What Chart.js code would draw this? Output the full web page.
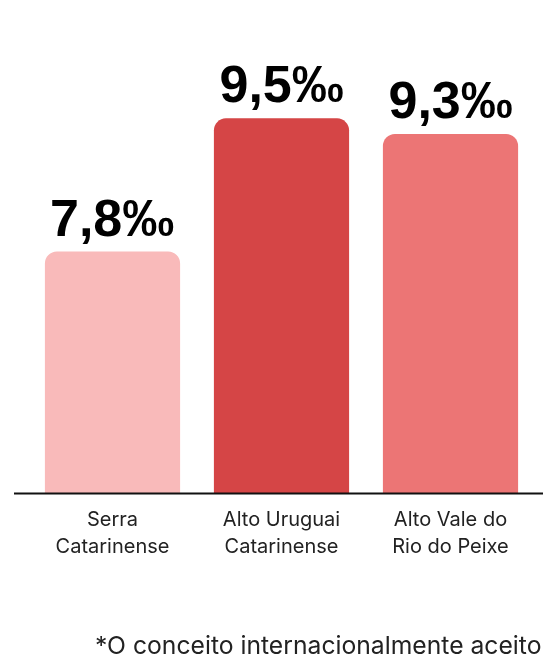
<!DOCTYPE html>
<html>
<head>
<meta charset="utf-8">
<script src="https://cdn.jsdelivr.net/npm/chart.js@4/dist/chart.umd.min.js"></script>
<style>
  html, body { margin: 0; padding: 0; background: #ffffff; overflow: hidden; }
  #wrap { position: relative; width: 543px; height: 663px; }
  #note { position: absolute; left: 95px; top: 633px; font-family: Inter, "Noto Sans", sans-serif; font-size: 24.7px; line-height: 25px; color: #222222; white-space: nowrap; }
</style>
</head>
<body>
<div id="wrap">
  <canvas id="c" width="543" height="663"></canvas>
  <div id="note">*O conceito internacionalmente aceito</div>
</div>
<script>
const categories = [["Serra", "Catarinense"], ["Alto Uruguai", "Catarinense"], ["Alto Vale do", "Rio do Peixe"]];
const values = [7.8, 9.5, 9.3];
const barColors = ["#F9BABA", "#D54546", "#EC7575"];
const unitSuffix = "‰";

const LABEL_FONT = "bold 52px 'Liberation Sans', Arial, sans-serif";

// measure the real inked extent of a string (left/right relative to draw x)
function inkExtent(txt) {
  const off = document.createElement("canvas");
  off.width = 400; off.height = 100;
  const o = off.getContext("2d");
  o.font = LABEL_FONT;
  o.fillStyle = "#000";
  o.textBaseline = "alphabetic";
  o.fillText(txt, 50, 80);
  const d = o.getImageData(0, 0, off.width, off.height).data;
  let minX = off.width, maxX = -1;
  for (let y = 0; y < off.height; y++) {
    for (let x = 0; x < off.width; x++) {
      if (d[(y * off.width + x) * 4 + 3] > 40) {
        if (x < minX) minX = x;
        if (x > maxX) maxX = x;
      }
    }
  }
  if (maxX < 0) return { left: 0, right: 0 };
  return { left: minX - 50, right: maxX + 1 - 50 };
}

const valueLabelPlugin = {
  id: "valueLabels",
  afterDatasetsDraw(chart) {
    const ctx = chart.ctx;
    const meta = chart.getDatasetMeta(0);
    ctx.save();
    ctx.font = LABEL_FONT;
    ctx.fillStyle = "#000000";
    ctx.textAlign = "left";
    ctx.textBaseline = "alphabetic";
    meta.data.forEach((bar, i) => {
      const txt = values[i].toFixed(1).replace(".", ",") + unitSuffix;
      const e = inkExtent(txt);
      const x = bar.x - (e.left + e.right) / 2;
      ctx.fillText(txt, x, bar.y - 16);
    });
    ctx.restore();
  }
};

const baselinePlugin = {
  id: "baseline",
  afterDatasetsDraw(chart) {
    const ctx = chart.ctx;
    const y = chart.chartArea.bottom;
    ctx.save();
    ctx.strokeStyle = "#111111";
    ctx.lineWidth = 2;
    ctx.beginPath();
    ctx.moveTo(14, y + 0.5);
    ctx.lineTo(chart.width, y + 0.5);
    ctx.stroke();
    ctx.restore();
  }
};

new Chart(document.getElementById("c"), {
  type: "bar",
  data: {
    labels: categories,
    datasets: [{
      data: values,
      backgroundColor: barColors,
      borderRadius: 12,
      borderSkipped: "start",
      barPercentage: 0.8,
      categoryPercentage: 1.0
    }]
  },
  options: {
    responsive: false,
    animation: false,
    devicePixelRatio: 1,
    layout: { padding: { top: 40, left: 28, right: 8, bottom: 90 } },
    plugins: { legend: { display: false }, tooltip: { enabled: false } },
    scales: {
      y: { display: false, min: 4.72, max: 10.5 },
      x: {
        grid: { display: false, drawTicks: false },
        border: { display: false },
        ticks: {
          padding: 13,
          color: "#222222",
          font: { family: "Inter, 'Noto Sans', sans-serif", size: 20, lineHeight: 1.35 }
        }
      }
    }
  },
  plugins: [valueLabelPlugin, baselinePlugin]
});
</script>
</body>
</html>
